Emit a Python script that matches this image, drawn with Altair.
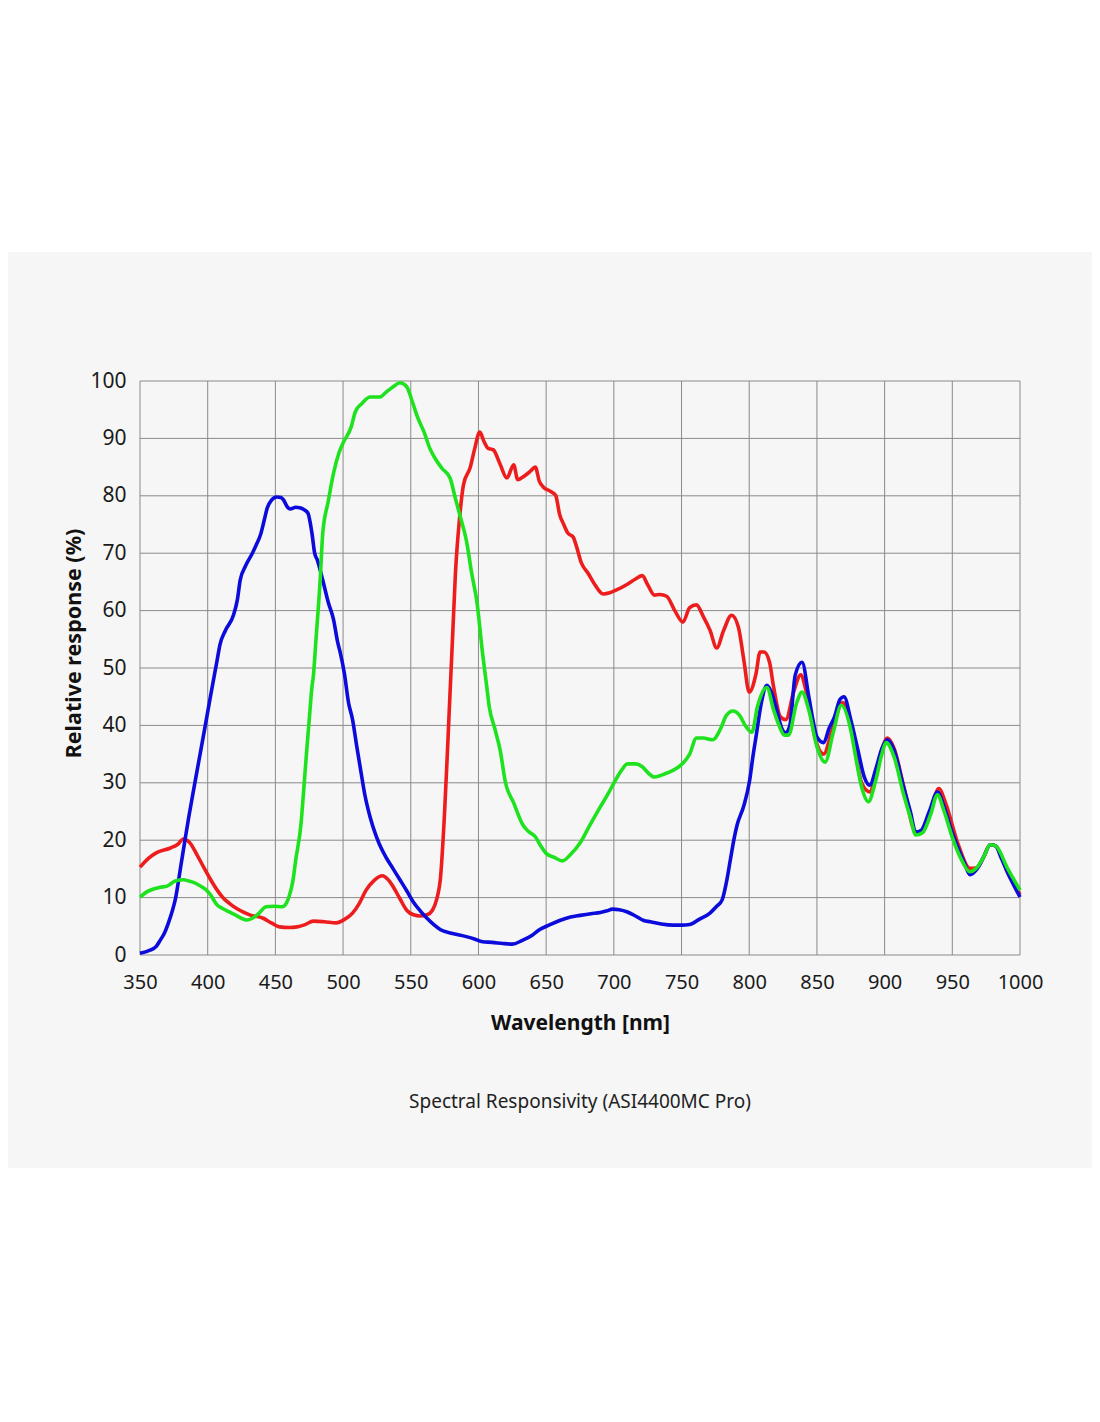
import altair as alt
import pandas as pd

# ---------------- data ----------------
red_nm = [350, 356, 362, 372, 378, 382, 387, 392, 397, 402, 407, 412, 416, 422, 431, 441, 447, 453, 460, 466,
          472, 478, 486, 495, 501, 507, 512, 517, 523, 529, 533, 537, 542, 547, 552, 557, 562, 566, 569, 572,
          575, 577, 579, 581, 583, 586, 589, 594, 597, 601, 604, 607, 611, 616, 621, 626, 629, 633, 638, 642,
          645, 648, 653, 657, 660, 663, 666, 670, 672, 676, 681, 686, 692, 697, 702, 710, 716, 721, 725, 730,
          734, 739, 745, 751, 756, 761, 766, 771, 776, 781, 787, 792, 796, 800, 805, 808, 811, 815, 818, 823,
          827, 833, 838, 842, 849, 855, 861, 869, 875, 883, 889, 894, 902, 907, 914, 923, 928, 934, 940, 945,
          954, 963, 968, 973, 978, 982, 991, 1000]
red_val = [15.3, 16.8, 17.8, 18.6, 19.3, 20.2, 19.5, 17.5, 15.3, 13.2, 11.3, 9.8, 9.0, 8.0, 7.0, 6.4, 5.6, 4.9, 4.8, 4.9,
           5.3, 5.9, 5.8, 5.6, 6.2, 7.3, 9.0, 11.3, 13.0, 13.8, 13.2, 11.9, 9.8, 7.8, 7.0, 6.8, 7.0, 7.8, 9.6, 13.6,
           25, 35, 45.6, 56, 66.5, 76, 82, 85, 88, 91.1, 89.5, 88.3, 88, 85.5, 83.1, 85.4, 82.8, 83.3, 84.2, 85,
           82.5, 81.5, 80.8, 80.1, 76.7, 75, 73.5, 72.8, 71.5, 68.3, 66.5, 64.5, 62.9, 63.1, 63.6, 64.6, 65.5, 66.1, 64.5, 62.7,
           62.8, 62.5, 60, 58, 60.5, 61, 59, 56.6, 53.5, 56.5, 59.2, 57.1, 51.4, 45.8, 49, 52.8, 52.8, 51, 46.7, 41.5,
           41, 46, 48.8, 46, 37.5, 35, 39, 44, 40, 30, 28.4, 32, 37.8, 36, 29.5, 21.4, 21.8, 25, 29, 26.5,
           19.5, 15.1, 15.2, 17, 19.2, 19, 14.3, 10.5]

blue_nm = [350, 357, 362, 365, 368, 371, 374, 376, 380, 383, 386, 390, 394, 398, 402, 407, 409, 413, 419, 422,
           424, 428, 433, 436, 439, 442, 444, 447, 451, 454, 456, 459, 461, 465, 468, 471, 474, 477, 479, 481,
           485, 489, 493, 496, 498, 501, 504, 507, 510, 513, 516, 520, 524, 527, 532, 537, 542, 547, 552, 557,
           562, 567, 572, 580, 591, 597, 603, 610, 618, 625, 632, 640, 645, 652, 660, 668, 675, 683, 690, 695,
           699, 704, 710, 716, 722, 727, 735, 744, 750, 756, 763, 771, 776, 780, 783, 786, 789, 791, 796, 800,
           803, 805, 809, 813, 816, 820, 824, 827, 830, 834, 839, 844, 847, 850, 855, 859, 863, 867, 870, 875,
           880, 885, 889, 894, 898, 902, 907, 914, 919, 923, 927, 933, 939, 944, 949, 954, 959, 963, 968, 973,
           978, 982, 986, 991, 1000]
blue_val = [0.3, 0.8, 1.5, 2.6, 3.8, 5.6, 7.8, 9.6, 15.3, 19.7, 24, 29.3, 34.5, 39.7, 45, 51.4, 54, 56.5, 59.2, 62,
            65.3, 67.8, 70, 71.5, 73.2, 76, 77.9, 79.2, 79.8, 79.7, 79.3, 78, 77.7, 78, 77.9, 77.6, 77, 73.5, 70, 68.8,
            65.3, 61.5, 58.4, 54.5, 52.6, 49, 44, 41, 36.5, 32.2, 28, 24, 21, 19.2, 16.9, 15, 13.1, 11.2, 9.2, 7.7,
            6.4, 5.3, 4.4, 3.8, 3.2, 2.8, 2.3, 2.2, 2.0, 1.9, 2.5, 3.5, 4.4, 5.2, 6.0, 6.6, 6.9, 7.2, 7.4, 7.7,
            8.0, 7.9, 7.5, 6.8, 6.0, 5.8, 5.4, 5.2, 5.2, 5.3, 6.2, 7.3, 8.5, 9.6, 12.5, 16.5, 20.5, 22.6, 26, 30,
            35, 38, 44, 47, 46, 43, 39.5, 38.7, 40, 48.8, 51, 45, 41, 38, 37, 39.5, 41.5, 44.5, 45, 41,
            36, 31, 29.6, 32.8, 36, 37.5, 35.7, 29.3, 25, 21.4, 21.7, 25, 28.4, 25.8, 22, 18.8, 16, 14, 14.9, 17,
            19.2, 19, 17, 14.3, 10.1]

green_nm = [350, 355, 360, 365, 370, 376, 382, 386, 390, 394, 398, 402, 407, 411, 416, 421, 429, 433, 438, 443,
            449, 455, 458, 460, 463, 465, 469, 471, 473, 475, 477, 478, 480, 483, 485, 489, 493, 497, 500, 506,
            509, 514, 520, 527, 532, 537, 542, 547, 551, 555, 560, 564, 568, 573, 579, 583, 587, 591, 595, 599,
            603, 606, 608, 612, 616, 620, 626, 633, 637, 642, 646, 650, 656, 662, 668, 675, 682, 690, 696, 702,
            706, 710, 716, 721, 725, 730, 737, 744, 751, 756, 761, 766, 773, 779, 783, 788, 793, 797, 802, 806,
            813, 818, 822, 826, 829, 835, 839, 844, 850, 856, 862, 868, 875, 879, 883, 888, 893, 898, 901, 907,
            914, 919, 923, 928, 934, 939, 944, 950, 957, 963, 968, 973, 978, 982, 991, 1000]
green_val = [10.1, 11, 11.5, 11.8, 12.0, 12.9, 13.1, 12.9, 12.6, 12.1, 11.5, 10.5, 8.7, 8.1, 7.5, 6.9, 6.1, 6.4, 7.3, 8.4,
             8.5, 8.4, 9, 10.1, 13, 16.5, 23, 29, 35.2, 41, 46.7, 48.5, 55, 65, 73.5, 79, 84, 87.5, 89.2, 92,
             94.6, 96.1, 97.2, 97.2, 98.1, 99, 99.7, 99, 96.5, 93.7, 91, 88.3, 86.5, 84.8, 83.1, 79.5, 76, 72.3, 66.5, 61.3,
             52.6, 47, 43.2, 39.5, 35.7, 30, 26.5, 22.6, 21.5, 20.6, 19, 17.7, 17, 16.4, 17.5, 19.5, 22.5, 25.8, 28.2, 30.8,
             32.3, 33.3, 33.3, 32.8, 31.8, 31, 31.5, 32.2, 33.4, 35, 37.8, 37.8, 37.5, 39.5, 41.7, 42.5, 41.7, 40, 38.8, 43.2,
             46.6, 42.7, 40, 38.3, 38.3, 43.9, 45.8, 42.7, 36.3, 33.6, 38.7, 43.5, 39.2, 34, 29.3, 26.7, 30, 35, 37, 34.5,
             28, 24, 20.9, 21.3, 24.5, 27.9, 25, 20.5, 16.5, 14.5, 15.2, 17, 19.2, 19, 15, 11.3]

x_ticks = list(range(350, 1001, 50))
y_ticks = list(range(0, 101, 10))

x_title = "Wavelength [nm]"
y_title = "Relative response (%)"
chart_title = "Spectral Responsivity (ASI4400MC Pro)"

# ---------------- chart ----------------
W, H = 880, 574
FONT = "Noto Sans"

x_scale = alt.Scale(domain=[350, 1000], nice=False, zero=False)
y_scale = alt.Scale(domain=[0, 100], nice=False)

x_axis = alt.Axis(values=x_ticks, format="d", title=x_title, grid=False, ticks=False, domain=False,
                  labelFontSize=20, labelFont=FONT, labelColor="#1a1a1a", labelPadding=17,
                  titleFont=FONT, titleFontSize=21, titleFontWeight="bold", titleColor="#111",
                  titlePadding=20, labelFlush=False, zindex=1)
y_axis = alt.Axis(values=y_ticks, format="d", title=y_title, grid=False, ticks=False, domain=False,
                  labelFontSize=21, labelFont=FONT, labelColor="#1a1a1a", labelPadding=14,
                  titleFont=FONT, titleFontSize=21.5, titleFontWeight="bold", titleColor="#111",
                  titleAngle=270, titleAlign="center", titleBaseline="middle",
                  titleX=-66, titleY=H / 2 - 25,
                  labelFlush=False, zindex=1)

band = alt.Chart(alt.Data(values=[{"a": 1}])).mark_rect(color="#f6f6f6").encode(
    x=alt.value(-132), x2=alt.value(W + 72), y=alt.value(-129), y2=alt.value(H + 213)
)

vgrid = alt.Chart(pd.DataFrame({"nm": x_ticks})).mark_rule(color="#8a8a8a", strokeWidth=1).encode(
    x=alt.X("nm:Q", scale=x_scale, axis=x_axis)
)
hgrid = alt.Chart(pd.DataFrame({"v": y_ticks})).mark_rule(color="#8a8a8a", strokeWidth=1).encode(
    y=alt.Y("v:Q", scale=y_scale, axis=y_axis)
)


def curve(nm, val, color):
    df = pd.DataFrame({"nm": nm, "v": val})
    return alt.Chart(df).mark_line(color=color, strokeWidth=3.6, interpolate="monotone").encode(
        x=alt.X("nm:Q", scale=x_scale, axis=x_axis),
        y=alt.Y("v:Q", scale=y_scale, axis=y_axis),
    )


red = curve(red_nm, red_val, "#ee1d1d")
blue = curve(blue_nm, blue_val, "#0b0bdc")
green = curve(green_nm, green_val, "#1fe21f")

chart = alt.layer(band, vgrid, hgrid, red, blue, green).properties(
    width=W,
    height=H,
    title=alt.TitleParams(chart_title, orient="bottom", anchor="middle", fontSize=19, font=FONT,
                          fontWeight="normal", color="#222", offset=-75),
    background="white",
    padding={"left": 132, "top": 373, "right": 72, "bottom": 460},
    autosize=alt.AutoSizeParams(type="none"),
).configure_view(stroke=None)

chart.save("out.html", embed_options={"renderer": "svg", "actions": False})
